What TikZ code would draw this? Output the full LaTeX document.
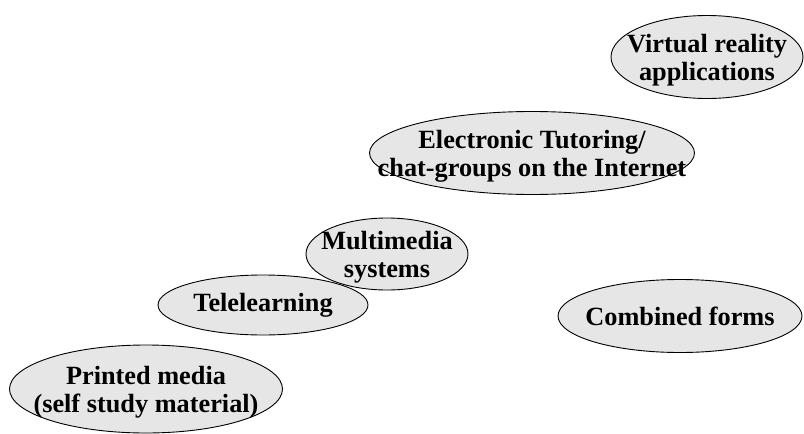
\documentclass[tikz,border=0pt]{standalone}
\usepackage{fontspec}
\setmainfont{Liberation Serif}
\usepackage{xcolor}
\usepackage{tikz}
\usetikzlibrary{shapes.geometric}

\definecolor{blobgray}{HTML}{E6E6E6}

\begin{document}
\begin{tikzpicture}[
    x=1pt, y=-1pt,
    blob/.style={draw, ellipse, fill=blobgray, line width=0.9pt, inner sep=0pt},
    blobtext/.style={inner sep=0pt, align=center, font=\fontsize{26.3}{28}\selectfont\bfseries},
    twolines/.style={blobtext, yshift=-3pt}
]
\useasboundingbox (0,0) rectangle (804,434);

\node[blob, minimum width=273pt, minimum height=88pt] (printed) at (146,389) {};
\node[twolines] (printed-txt) at (printed) {Printed media\\(self study material)};

\node[blob, minimum width=210pt, minimum height=60pt] (tele) at (263,305) {};
\node[blobtext] (tele-txt) at (tele) {Telelearning};

\node[blob, minimum width=162pt, minimum height=72pt] (multi) at (387,254) {};
\node[twolines] (multi-txt) at (multi) {Multimedia\\systems};

\node[blob, minimum width=325pt, minimum height=83pt] (tutor) at (532,153) {};
\node[twolines] (tutor-txt) at (tutor) {Electronic Tutoring/\\chat-groups on the Internet};

\node[blob, minimum width=192pt, minimum height=83pt] (virtual) at (707,57) {};
\node[twolines] (virtual-txt) at (virtual) {Virtual reality\\applications};

\node[blob, minimum width=244pt, minimum height=73pt] (combined) at (680,316) {};
\node[blobtext] (combined-txt) at (combined) {Combined forms};

\end{tikzpicture}
\end{document}
